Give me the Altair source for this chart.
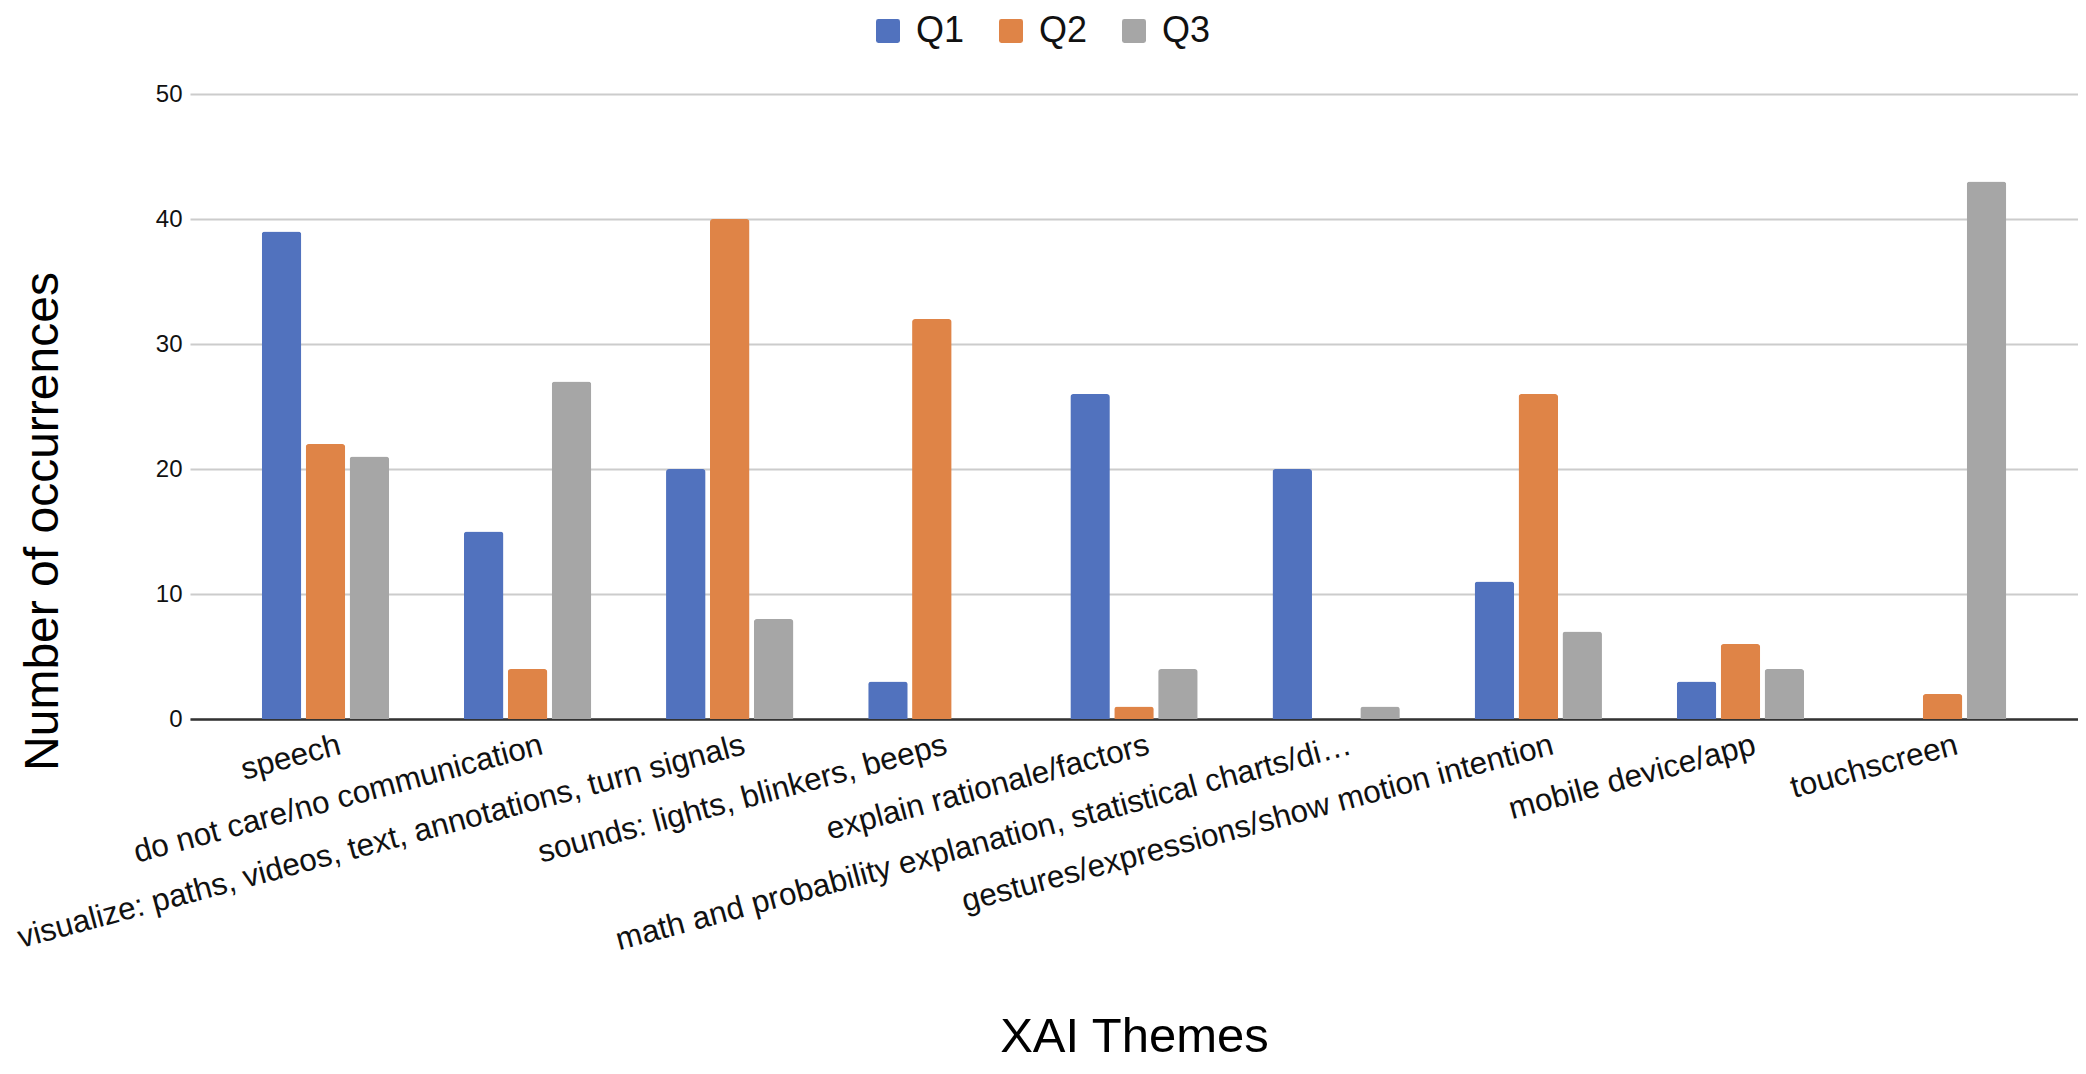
import altair as alt
import pandas as pd

themes = [
    "speech",
    "do not care/no communication",
    "visualize: paths, videos, text, annotations, turn signals",
    "sounds: lights, blinkers, beeps",
    "explain rationale/factors",
    "math and probability explanation, statistical charts/di\u2026",
    "gestures/expressions/show motion intention",
    "mobile device/app",
    "touchscreen",
]
series = ["Q1", "Q2", "Q3"]
q1 = [39, 15, 20, 3, 26, 20, 11, 3, None]
q2 = [22, 4, 40, 32, 1, None, 26, 6, 2]
q3 = [21, 27, 8, None, 4, 1, 7, 4, 43]
colors = ["#5172BE", "#DF8447", "#A6A6A6"]
y_ticks = [0, 10, 20, 30, 40, 50]

rows = []
for name, vals in zip(series, [q1, q2, q3]):
    for t, v in zip(themes, vals):
        if v is not None:
            rows.append({"theme": t, "q": name, "value": v})
df = pd.DataFrame(rows)

FONT = "Liberation Sans"
rsq = "M-1,-0.8Q-1,-1,-0.8,-1L0.8,-1Q1,-1,1,-0.8L1,0.8Q1,1,0.8,1L-0.8,1Q-1,1,-1,0.8Z"

chart = alt.Chart(df).mark_bar(
    cornerRadiusTopLeft=3, cornerRadiusTopRight=3
).encode(
    x=alt.X(
        "theme:N",
        sort=themes,
        scale=alt.Scale(domain=themes, paddingInner=0.37, paddingOuter=0.355),
        axis=alt.Axis(
            title="XAI Themes",
            titleFontSize=49,
            titleFont=FONT,
            titleFontWeight="normal",
            titleColor="#000000",
            titleBaseline="alphabetic",
            titleY=332,
            labelAngle=-15,
            labelAlign="right",
            labelBaseline="top",
            labelFontSize=31.5,
            labelFont=FONT,
            labelColor="#111111",
            labelPadding=10,
            tickOffset=10,
            labelLimit=2000,
            labelOverlap=False,
            ticks=False,
            domainColor="#333333",
            domainWidth=2.5,
            grid=False,
        ),
    ),
    xOffset=alt.XOffset(
        "q:N",
        sort=series,
        scale=alt.Scale(domain=series, paddingInner=0.1, paddingOuter=0),
    ),
    y=alt.Y(
        "value:Q",
        scale=alt.Scale(domain=[0, 50], nice=False),
        axis=alt.Axis(
            title="Number of occurrences",
            titleFontSize=48,
            titleFont=FONT,
            titleFontWeight="normal",
            titleColor="#000000",
            titleBaseline="alphabetic",
            titleX=-133,
            titleY=427,
            values=y_ticks,
            labelFontSize=24,
            labelFont=FONT,
            labelColor="#111111",
            labelPadding=8,
            ticks=False,
            domain=False,
            gridColor="#CCCCCC",
            gridWidth=2,
        ),
    ),
    color=alt.Color(
        "q:N",
        sort=series,
        scale=alt.Scale(domain=series, range=colors),
        legend=alt.Legend(
            title=None,
            orient="none",
            direction="horizontal",
            legendX=680,
            legendY=-81,
            padding=0,
            symbolType=rsq,
            symbolSize=576,
            symbolStrokeWidth=0,
            labelFontSize=36,
            labelFont=FONT,
            labelColor="#111111",
            labelOffset=10,
            labelLimit=300,
            columnPadding=28,
        ),
    ),
).properties(
    width=1888,
    height=625,
    padding={"left": 182, "top": 86, "right": 0, "bottom": 342},
    autosize=alt.AutoSizeParams(type="none"),
).configure_view(stroke=None)

chart.save("out.html", embed_options={"renderer": "svg", "actions": False})
